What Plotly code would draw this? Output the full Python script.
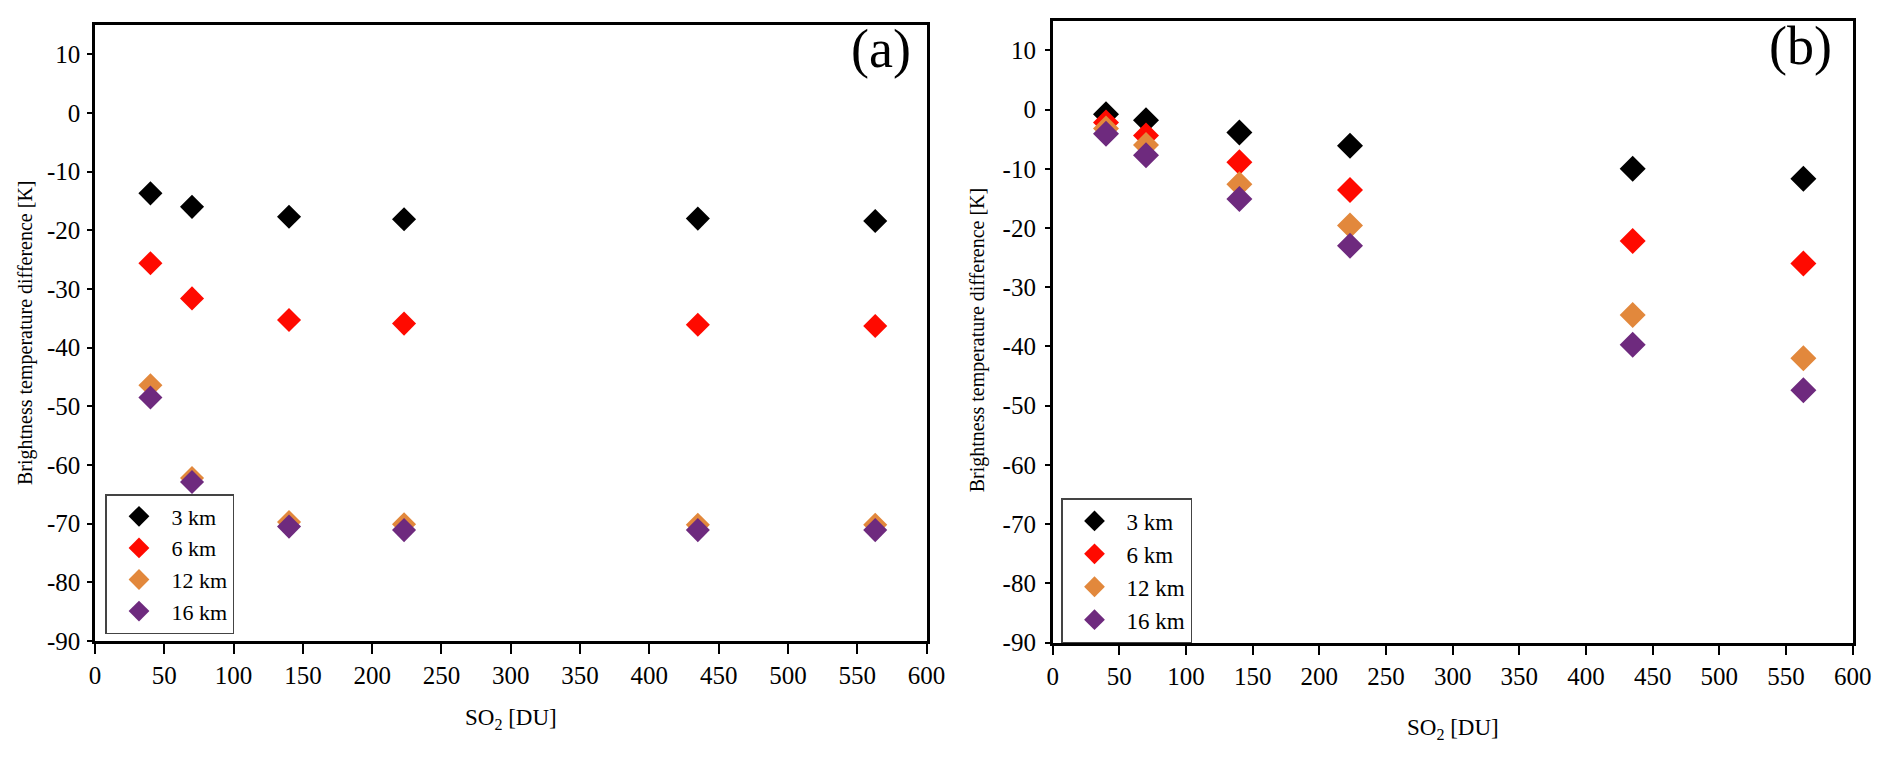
from __future__ import annotations

import plotly.graph_objects as go

SO2_DU = [40, 70, 140, 223, 435, 563]
HEIGHT_LABELS = ["3 km", "6 km", "12 km", "16 km"]
HEIGHT_COLORS = ["#000000", "#ff0a00", "#e2883c", "#6e2a7e"]

# panel (a)
BTD_A_3KM = [-13.7, -16.0, -17.7, -18.1, -18.0, -18.4]
BTD_A_6KM = [-25.6, -31.6, -35.3, -35.9, -36.1, -36.3]
BTD_A_12KM = [-46.4, -62.2, -69.7, -70.1, -70.2, -70.2]
BTD_A_16KM = [-48.5, -62.9, -70.5, -71.1, -71.1, -71.1]

# panel (b)
BTD_B_3KM = [-0.8, -1.8, -3.9, -6.1, -10.0, -11.7]
BTD_B_6KM = [-2.2, -4.4, -8.9, -13.6, -22.2, -26.0]
BTD_B_12KM = [-3.2, -6.0, -12.6, -19.6, -34.7, -42.0]
BTD_B_16KM = [-4.1, -7.7, -15.1, -23.0, -39.7, -47.4]

X_TICKS = list(range(0, 601, 50))
Y_TICKS = list(range(-90, 11, 10))

Y_TITLE = "Brightness temperature difference [K]"
X_TITLE = "SO<sub>2</sub> [DU]"

FONT = "Liberation Serif, Times New Roman, Times, serif"
W, H = 1892, 757
# the page body adds an 8px margin around the figure, so layout pixels are
# given in window coordinates and shifted back by this amount
OFF = 8


def _px_x(px: float) -> float:
    return (px - OFF) / W


def _px_y(py: float) -> float:
    return (H - (py - OFF)) / H


def _font(size: float) -> dict[str, object]:
    return {"family": FONT, "size": size, "color": "black"}


def _add_panel(fig, series, xaxis, yaxis, legend, marker_size):
    for label, color, values in zip(HEIGHT_LABELS, HEIGHT_COLORS, series):
        fig.add_trace(
            go.Scatter(
                x=SO2_DU,
                y=values,
                mode="markers",
                name=label,
                xaxis=xaxis,
                yaxis=yaxis,
                legend=legend,
                marker={"symbol": "diamond", "size": marker_size, "color": color,
                        "line": {"width": 0}},
            )
        )


def _axis(domain, anchor, ticks, rng, ticklen, standoff):
    return dict(
        domain=domain,
        anchor=anchor,
        range=rng,
        tickvals=ticks,
        ticktext=[str(t) for t in ticks],
        ticks="outside",
        ticklen=ticklen,
        tickwidth=2,
        tickcolor="black",
        ticklabelstandoff=standoff,
        showline=True,
        linecolor="black",
        linewidth=2.5,
        mirror=True,
        showgrid=False,
        zeroline=False,
        tickfont=_font(25),
        automargin=False,
    )


def _titles(xref, yref, x_shift_ytitle, y_shift_ytitle, y_shift_xtitle):
    return [
        dict(text=X_TITLE, xref=f"{xref} domain", yref=f"{yref} domain", x=0.5, y=0,
             xanchor="center", yanchor="middle", yshift=y_shift_xtitle, showarrow=False,
             font=_font(23)),
        dict(text=Y_TITLE, xref=f"{xref} domain", yref=f"{yref} domain", x=0, y=0.5,
             xanchor="center", yanchor="middle", xshift=x_shift_ytitle,
             yshift=y_shift_ytitle, textangle=-90, showarrow=False, font=_font(20)),
    ]


fig = go.Figure()
_add_panel(fig, [BTD_A_3KM, BTD_A_6KM, BTD_A_12KM, BTD_A_16KM], "x", "y", "legend", 18.5)
_add_panel(fig, [BTD_B_3KM, BTD_B_6KM, BTD_B_12KM, BTD_B_16KM], "x2", "y2", "legend2", 20)

legend_style = dict(
    xanchor="left",
    yanchor="top",
    bgcolor="white",
    bordercolor="#444444",
    borderwidth=1.5,
    tracegroupgap=0,
)

panel_labels = [
    dict(text="(a)", xref="x domain", yref="y domain", x=1, y=1, xanchor="right",
         yanchor="top", xshift=-13, yshift=8, showarrow=False, font=_font(54)),
    dict(text="(b)", xref="x2 domain", yref="y2 domain", x=1, y=1, xanchor="right",
         yanchor="top", xshift=-19, yshift=7, showarrow=False, font=_font(54)),
]

fig.update_layout(
    width=W,
    height=H,
    margin={"l": 0, "r": 0, "t": 0, "b": 0, "autoexpand": False},
    paper_bgcolor="white",
    plot_bgcolor="white",
    font={"family": FONT, "color": "black"},
    xaxis=_axis([_px_x(95), _px_x(926.5)], "y", X_TICKS, [0, 600], 10, 0),
    yaxis=_axis([_px_y(641), _px_y(25)], "x", Y_TICKS, [-90, 15], 5, 2),
    xaxis2=_axis([_px_x(1052.7), _px_x(1852.7)], "y2", X_TICKS, [0, 600], 10, 0),
    yaxis2=_axis([_px_y(642.5), _px_y(20.7)], "x2", Y_TICKS, [-90, 15], 5, 4),
    legend=dict(x=_px_x(105), y=_px_y(494), font=_font(22), itemwidth=55, **legend_style),
    legend2=dict(x=_px_x(1061), y=_px_y(498), font=_font(23), itemwidth=54, **legend_style),
    annotations=panel_labels
    + _titles("x", "y", -70, 0, -78)
    + _titles("x2", "y2", -75, -8, -86),
)

fig.write_html("out.html")
